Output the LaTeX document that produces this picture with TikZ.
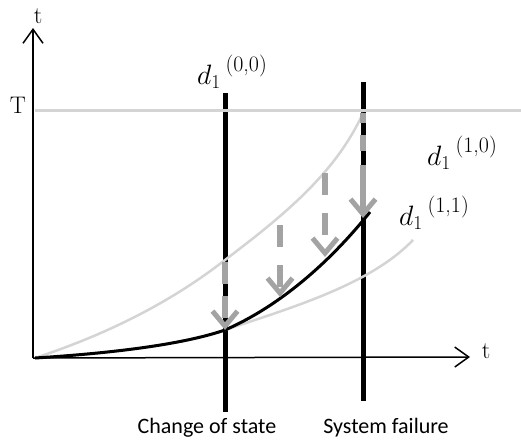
\RequirePackage{fix-cm}
\documentclass[tikz,border=0pt]{standalone}
\usepackage{fontspec}
\newfontfamily\calib{Carlito}
\usetikzlibrary{arrows.meta}
\definecolor{lightg}{RGB}{212,212,212}
\definecolor{midg}{RGB}{163,163,163}
\newcommand{\dsup}[1]{$d_{1}$\,\raisebox{13pt}{\fontsize{22}{24}\selectfont(#1)}}
\begin{document}
\begin{tikzpicture}[x=1pt,y=-1pt,
  axisline/.style={line width=1.5pt,-{Straight Barb[length=14pt,width=20pt,line width=1.5pt]}},
  eventline/.style={line width=5pt,black},
  lightcurve/.style={line width=2.5pt,lightg},
  maincurve/.style={line width=3pt,black},
  garrow/.style={line width=6pt,midg,-{Straight Barb[length=15pt,width=25pt,line width=5pt]}},
  serlab/.style={font=\fontsize{24}{28}\selectfont,inner sep=0pt},
  dlab/.style={font=\fontsize{28}{32}\selectfont,inner sep=0pt},
  evlab/.style={font=\calib\fontsize{22}{26}\selectfont,inner sep=0pt}
]
\useasboundingbox (0,0) rectangle (521,447);
% coordinates
\coordinate (O) at (33,358);
\coordinate (Ytip) at (33,28);
\coordinate (Xtip) at (470,357);
% event lines
\coordinate (e1top) at (225,93);
\coordinate (e1bot) at (225,412);
\coordinate (e2top) at (363,82);
\coordinate (e2bot) at (363,401);
\draw[eventline] (e1top) -- (e1bot);
\draw[eventline] (e2top) -- (e2bot);
% T line
\coordinate (Tl) at (35,110);
\coordinate (Tr) at (521,110);
\draw[lightcurve,line width=3pt] (Tl) -- (Tr);
% light curves
\draw[lightcurve] (35,358) .. controls (120,330) and (180,295) .. (225,260)
   .. controls (280,218) and (335,175) .. (363,113);
\draw[lightcurve] (35,358) .. controls (130,352) and (190,342) .. (225,330)
   .. controls (290,308) and (370,285) .. (413,240);
% main curve
\draw[maincurve] (35,358) .. controls (130,352) and (190,342) .. (225,330)
   .. controls (280,306) and (330,262) .. (370,212);
% gray arrows
\coordinate (a1s) at (225,262); \coordinate (a1e) at (225,330);
\coordinate (a2s) at (280,225); \coordinate (a2e) at (280,297);
\coordinate (a3s) at (325,173); \coordinate (a3e) at (325,257);
\coordinate (a4s) at (363,113); \coordinate (a4e) at (363,218);
\draw[garrow,dash pattern=on 22pt off 12pt] (a1s) -- (a1e);
\draw[garrow,dash pattern=on 22pt off 18pt] (a2s) -- (a2e);
\draw[garrow,dash pattern=on 22pt off 18pt] (a3s) -- (a3e);
\draw[garrow,dash pattern=on 10pt off 12pt on 16pt off 14pt on 80pt] (a4s) -- (a4e);
% axes
\draw[axisline] (O) -- (Ytip);
\draw[axisline] (O) -- (Xtip);
% labels
\node[serlab] (tY) at (38,16) {t};
\node[serlab] (Tlab) at (18,105) {T};
\node[serlab] (tX) at (486,351) {t};
\node[dlab,anchor=west] (d00) at (197,72) {\dsup{0,0}};
\node[dlab,anchor=west] (d10) at (427,153) {\dsup{1,0}};
\node[dlab,anchor=west] (d11) at (399,213) {\dsup{1,1}};
\node[evlab] (ev1) at (207,428) {Change of state};
\node[evlab] (ev2) at (386,428) {System failure};
\end{tikzpicture}
\end{document}
